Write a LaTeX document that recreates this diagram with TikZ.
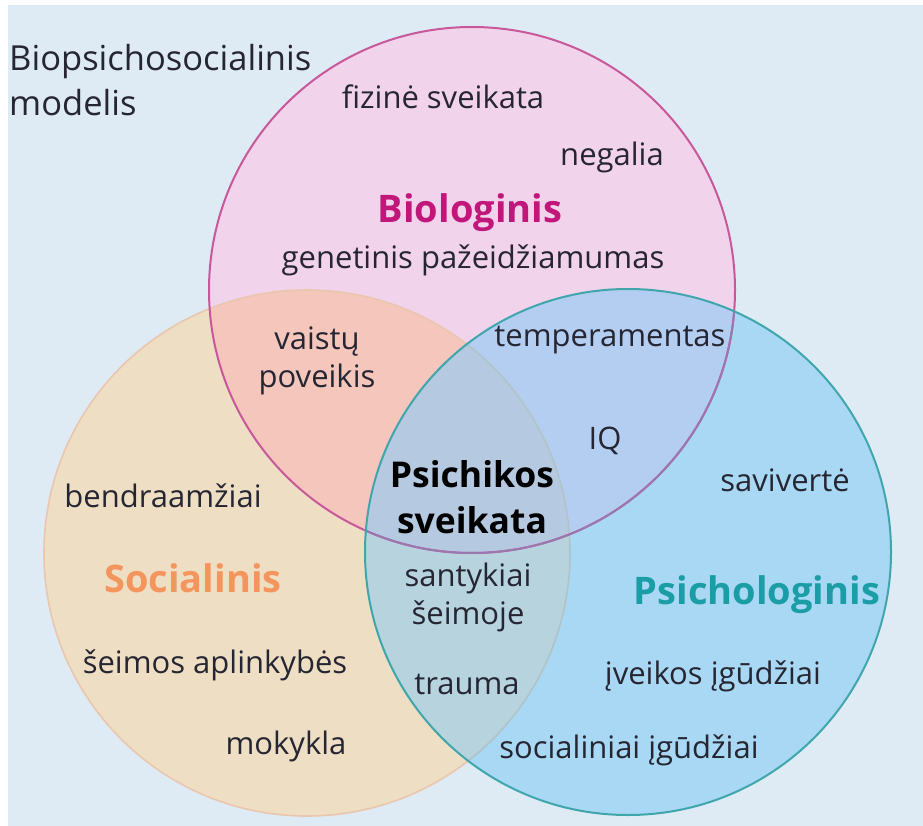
\documentclass[tikz,border=0pt]{standalone}
\usepackage{fontspec}
\setmainfont{Open Sans}
\definecolor{bgc}{HTML}{DEEBF4}
\definecolor{pinkf}{HTML}{F2D3EC}
\definecolor{orangef}{HTML}{EEDFC4}
\definecolor{bluef}{HTML}{A8D8F4}
\definecolor{poF}{HTML}{F4C6BC}
\definecolor{pbF}{HTML}{B4CEF2}
\definecolor{obF}{HTML}{B6D3DE}
\definecolor{centerF}{HTML}{B5C9E0}
\definecolor{pinkline}{HTML}{C8589A}
\definecolor{pinklineB}{HTML}{9A78AE}
\definecolor{orangeline}{HTML}{EAC6AE}
\definecolor{orangelineB}{HTML}{A8C6D2}
\definecolor{blueline}{HTML}{3FA6AC}
\definecolor{txt}{HTML}{262633}
\definecolor{bioC}{HTML}{C2177A}
\definecolor{socC}{HTML}{F4955E}
\definecolor{psyC}{HTML}{1B9DA6}
\tikzset{
  lbl/.style={text=txt, inner sep=0pt, font=\fontsize{31}{38}\selectfont, align=center},
  head/.style={inner sep=0pt, font=\fontsize{38}{40}\selectfont\bfseries},
  core/.style={text=black, inner sep=0pt, font=\fontsize{35.5}{46}\selectfont\bfseries, align=center},
}
\begin{document}
\begin{tikzpicture}[x=1pt,y=-1pt]
\useasboundingbox (0,0) rectangle (923,826);
\fill[white] (0,0) rectangle (923,826);
\fill[bgc] (8,5) rectangle (923,826);
\def\rr{263}
\coordinate (cB) at (472,290);
\coordinate (cS) at (307,553);
\coordinate (cP) at (628,552);
% base fills
\fill[pinkf] (cB) circle (\rr);
\fill[orangef] (cS) circle (\rr);
\fill[bluef] (cP) circle (\rr);
% pairwise overlaps
\begin{scope}\clip (cB) circle (\rr); \fill[poF] (cS) circle (\rr); \end{scope}
\begin{scope}\clip (cB) circle (\rr); \fill[pbF] (cP) circle (\rr); \end{scope}
\begin{scope}\clip (cS) circle (\rr); \fill[obF] (cP) circle (\rr); \end{scope}
\begin{scope}\clip (cB) circle (\rr); \clip (cS) circle (\rr); \fill[centerF] (cP) circle (\rr); \end{scope}
% outlines
\draw[orangeline, line width=1.6pt] (cS) circle (\rr);
\begin{scope}\clip (cP) circle (\rr); \draw[orangelineB, line width=1.6pt] (cS) circle (\rr); \end{scope}
\draw[pinkline, line width=2pt] (cB) circle (\rr);
\begin{scope}\clip (cP) circle (\rr); \draw[pinklineB, line width=2pt] (cB) circle (\rr); \end{scope}
\draw[blueline, line width=2pt] (cP) circle (\rr);
% texts
\node[lbl, anchor=west, align=left, font=\fontsize{34.5}{45}\selectfont] (title) at (9,80) {Biopsichosocialinis\\modelis};
\node[lbl] (fiz) at (443,97) {fizinė sveikata};
\node[lbl] (neg) at (612,157) {negalia};
\node[head, text=bioC] (bio) at (470,213) {Biologinis};
\node[lbl] (gen) at (473,260) {genetinis pažeidžiamumas};
\node[lbl] (vai) at (317,361) {vaistų\\poveikis};
\node[lbl] (tem) at (610,340) {temperamentas};
\node[lbl] (iq) at (605,441) {IQ};
\node[core] (ps) at (472,497) {Psichikos\\sveikata};
\node[lbl] (sav) at (785,480) {savivertė};
\node[lbl] (ben) at (163,496) {bendraamžiai};
\node[head, text=socC] (soc) at (193,578) {Socialinis};
\node[lbl] (san) at (468,597) {santykiai\\šeimoje};
\node[head, text=psyC] (psy) at (757,595) {Psichologinis};
\node[lbl] (sei) at (215,665) {šeimos aplinkybės};
\node[lbl] (tra) at (467,684) {trauma};
\node[lbl] (ive) at (713,676) {įveikos įgūdžiai};
\node[lbl] (mok) at (286,746) {mokykla};
\node[lbl] (sgu) at (629,750) {socialiniai įgūdžiai};
\end{tikzpicture}
\end{document}
